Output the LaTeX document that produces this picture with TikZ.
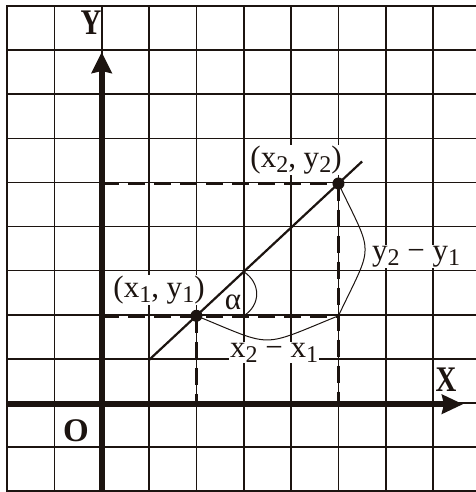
\documentclass[tikz,border=0pt]{standalone}
\usepackage{fontspec}
\setmainfont{Liberation Serif}
\usetikzlibrary{arrows.meta}
\definecolor{ink}{RGB}{28,20,16}
\newcommand\sbs[1]{\raisebox{-0.17em}{\fontsize{24}{24}\selectfont #1}}
\begin{document}
\begin{tikzpicture}[x=1pt,y=-1pt,
  gridline/.style={draw=ink,line width=1.6pt,line cap=rect},
  axisline/.style={draw=ink,line width=6pt},
  guide/.style={draw=ink,line width=3.5pt,dash pattern=on 17pt off 9pt},
  mainline/.style={draw=ink,line width=2.2pt},
  thinarc/.style={draw=ink,line width=1pt},
  lbl/.style={font=\fontsize{31}{36}\selectfont,text=ink,fill=white,inner sep=1pt},
  axlbl/.style={font=\bfseries\fontsize{36}{40}\selectfont,text=ink,inner sep=0pt},
  dotpt/.style={circle,fill=ink,inner sep=0pt,minimum size=12pt}]
\useasboundingbox (0,0) rectangle (475,492);
\fill[white] (0,0) rectangle (475,492);
% grid
\foreach \k in {0,...,9} \draw[gridline] ({7+47.35*\k},6) -- ({7+47.35*\k},491);
\foreach \k in {0,...,11} \draw[gridline] (7,{6+44.1*\k}) -- (475,{6+44.1*\k});
% coordinates
\coordinate (Xs) at (7,404.2);
\coordinate (Xe) at (463,404.2);
\coordinate (Ys) at (101.7,492);
\coordinate (Ye) at (101.7,52);
\coordinate (A) at (149.05,359.9);
\coordinate (P1) at (196.4,315.8);
\coordinate (P2) at (338.45,183.5);
\coordinate (E) at (362.1,161.45);
\coordinate (C) at (338.45,315.8);
\coordinate (Q1) at (101.7,315.8);
\coordinate (Q2) at (101.7,183.5);
\coordinate (R1) at (196.4,404.2);
\coordinate (R2) at (338.45,404.2);
\coordinate (M) at (243.75,271.7);
\coordinate (N) at (243.75,315.8);
% dashed guides
\draw[guide] (Q2) -- (P2);
\draw[guide] (P2) -- (R2);
\draw[guide] (Q1) -- (C);
\draw[guide] (P1) -- (R1);
% main line
\draw[mainline] (A) -- (E);
% arcs
\draw[thinarc] (M) .. controls (261,283) and (261,305) .. (N);
\draw[thinarc] (P1) .. controls (275,348) and (259,348) .. (C);
\draw[thinarc] (P2) .. controls (374,258) and (374,241) .. (C);
% axes
\draw[axisline,-{Stealth[length=21pt,width=19pt,inset=2pt]}] (Xs) -- (Xe);
\draw[axisline,-{Stealth[length=21pt,width=20pt,inset=2pt]}] (Ys) -- (Ye);
% points
\node[dotpt] (d1) at (P1) {};
\node[dotpt] (d2) at (P2) {};
% labels
\node[lbl] (l1) at (159,290) {(x\sbs{1}, y\sbs{1})};
\node[lbl] (l2) at (296,160) {(x\sbs{2}, y\sbs{2})};
\node[lbl,anchor=base west] (l3) at (371,260) {y\sbs{2} − y\sbs{1}};
\node[lbl,anchor=base west] (l4) at (229,357) {x\sbs{2} − x\sbs{1}};
\node[lbl,fill=none] (la) at (233,302) {α};
\node[axlbl] (ly) at (91,23) {\scalebox{0.8}[1]{Y}};
\node[axlbl] (lx) at (446,380) {\scalebox{0.8}[1]{X}};
\node[axlbl,font=\bfseries\fontsize{33}{36}\selectfont] (lo) at (76,431) {O};
\end{tikzpicture}
\end{document}
